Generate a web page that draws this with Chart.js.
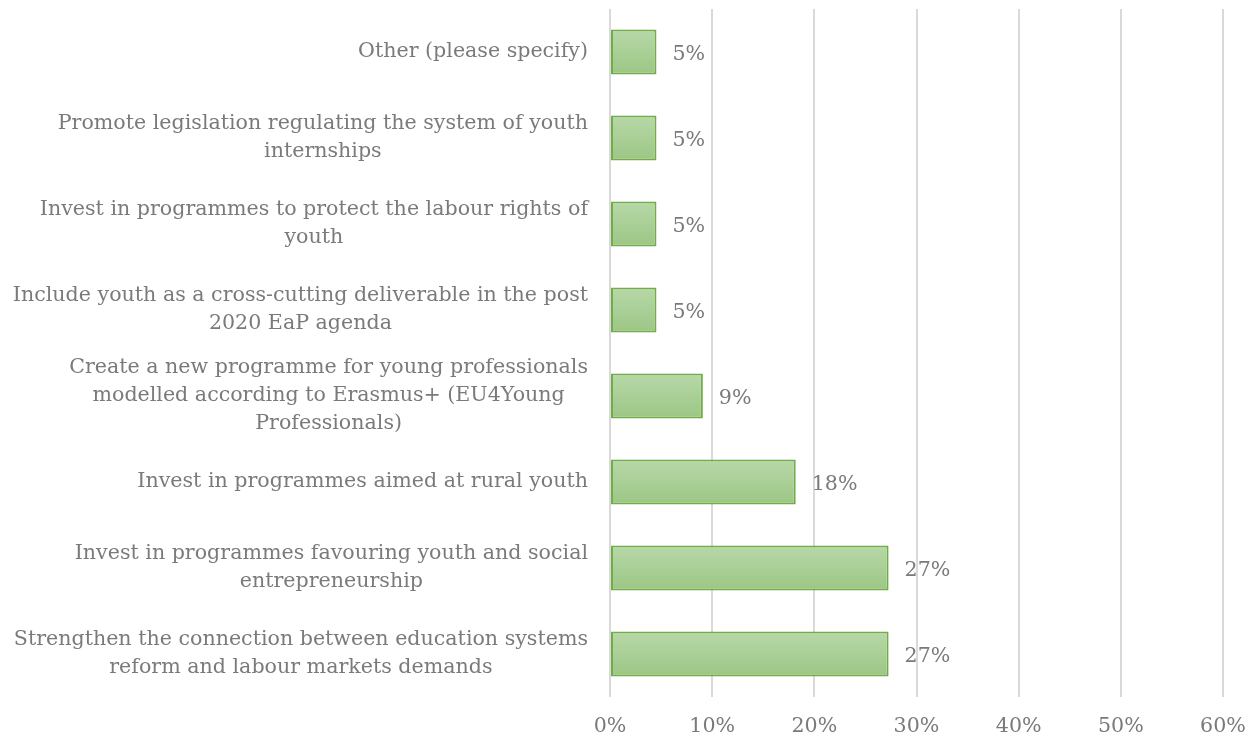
<!DOCTYPE html>
<html>
<head>
<meta charset="utf-8">
<script src="https://cdn.jsdelivr.net/npm/chart.js@4/dist/chart.umd.min.js"></script>
<style>
  html, body { margin: 0; padding: 0; background: #ffffff; }
  #wrap { width: 1256px; height: 738px; position: relative; }
</style>
</head>
<body>
<div id="wrap"><canvas id="c" width="1256" height="738"></canvas></div>
<script>
const categories = [
  ["Other (please specify)"],
  ["Promote legislation regulating the system of youth", "internships"],
  ["Invest in programmes to protect the labour rights of", "youth"],
  ["Include youth as a cross-cutting deliverable in the post", "2020 EaP agenda"],
  ["Create a new programme for young professionals", "modelled according to Erasmus+ (EU4Young", "Professionals)"],
  ["Invest in programmes aimed at rural youth"],
  ["Invest in programmes favouring youth and social", "entrepreneurship"],
  ["Strengthen the connection between education systems", "reform and labour markets demands"]
];
const shares = [4.55, 4.55, 4.55, 4.55, 9.09, 18.18, 27.27, 27.27];
const valueLabels = ["5%", "5%", "5%", "5%", "9%", "18%", "27%", "27%"];
const xTickLabels = ["0%", "10%", "20%", "30%", "40%", "50%", "60%"];

const FONT = "'DejaVu Serif', 'Liberation Serif', serif";
const TEXT = '#7a7a7a';
const FS = 20.6;
const BAR_PCT = 0.525;

function barFill(ctx) {
  const chart = ctx.chart;
  const y = chart.scales && chart.scales.y;
  if (!y || ctx.dataIndex == null) return '#a9d08e';
  const c = y.getPixelForValue(ctx.dataIndex);
  const h = (y.height / categories.length) * BAR_PCT;
  if (!isFinite(c)) return '#a9d08e';
  const g = chart.ctx.createLinearGradient(0, c - h / 2, 0, c + h / 2);
  g.addColorStop(0, '#b7d8a8');
  g.addColorStop(1, '#9cc685');
  return g;
}

const labelPlugin = {
  id: 'labels',
  afterDraw(chart) {
    const ctx = chart.ctx;
    const ys = chart.scales.y;
    const area = chart.chartArea;
    ctx.save();
    ctx.font = FS + 'px ' + FONT;
    ctx.fillStyle = TEXT;
    ctx.textBaseline = 'middle';
    ctx.textAlign = 'center';
    const lh = 28;
    categories.forEach((lines, i) => {
      const cy = ys.getPixelForValue(i);
      let maxw = 0;
      lines.forEach(l => { maxw = Math.max(maxw, ctx.measureText(l).width); });
      const right = area.left - 22;
      const cx = right - maxw / 2;
      const y0 = cy - (lines.length - 1) * lh / 2;
      lines.forEach((l, k) => ctx.fillText(l, cx, y0 + k * lh));
    });
    const meta = chart.getDatasetMeta(0);
    ctx.textAlign = 'left';
    meta.data.forEach((bar, i) => {
      ctx.fillText(valueLabels[i], bar.x + 16, bar.y + 3);
    });
    ctx.restore();
  }
};

new Chart(document.getElementById('c'), {
  type: 'bar',
  data: {
    labels: categories.map(l => l.join(' ')),
    datasets: [{
      data: shares,
      backgroundColor: barFill,
      borderColor: '#70ad47',
      borderWidth: 2,
      borderSkipped: false,
      barPercentage: BAR_PCT,
      categoryPercentage: 1.0
    }]
  },
  options: {
    indexAxis: 'y',
    responsive: false,
    animation: false,
    devicePixelRatio: 1,
    layout: { padding: { left: 610, right: 33, top: 9, bottom: 0 } },
    plugins: { legend: { display: false }, tooltip: { enabled: false } },
    scales: {
      x: {
        min: 0, max: 60,
        ticks: {
          stepSize: 10,
          color: TEXT,
          font: { family: FONT, size: FS },
          padding: 17,
          maxRotation: 0,
          callback: (v, i) => xTickLabels[i]
        },
        grid: { color: '#d9d9d9', lineWidth: 2, drawTicks: false },
        border: { display: false },
        afterFit(scale) { scale.height = 41; scale.paddingLeft = 0; scale.paddingRight = 0; }
      },
      y: {
        ticks: { display: false },
        grid: { display: false },
        border: { display: false },
        afterFit(scale) { scale.width = 0; }
      }
    }
  },
  plugins: [labelPlugin]
});
</script>
</body>
</html>
